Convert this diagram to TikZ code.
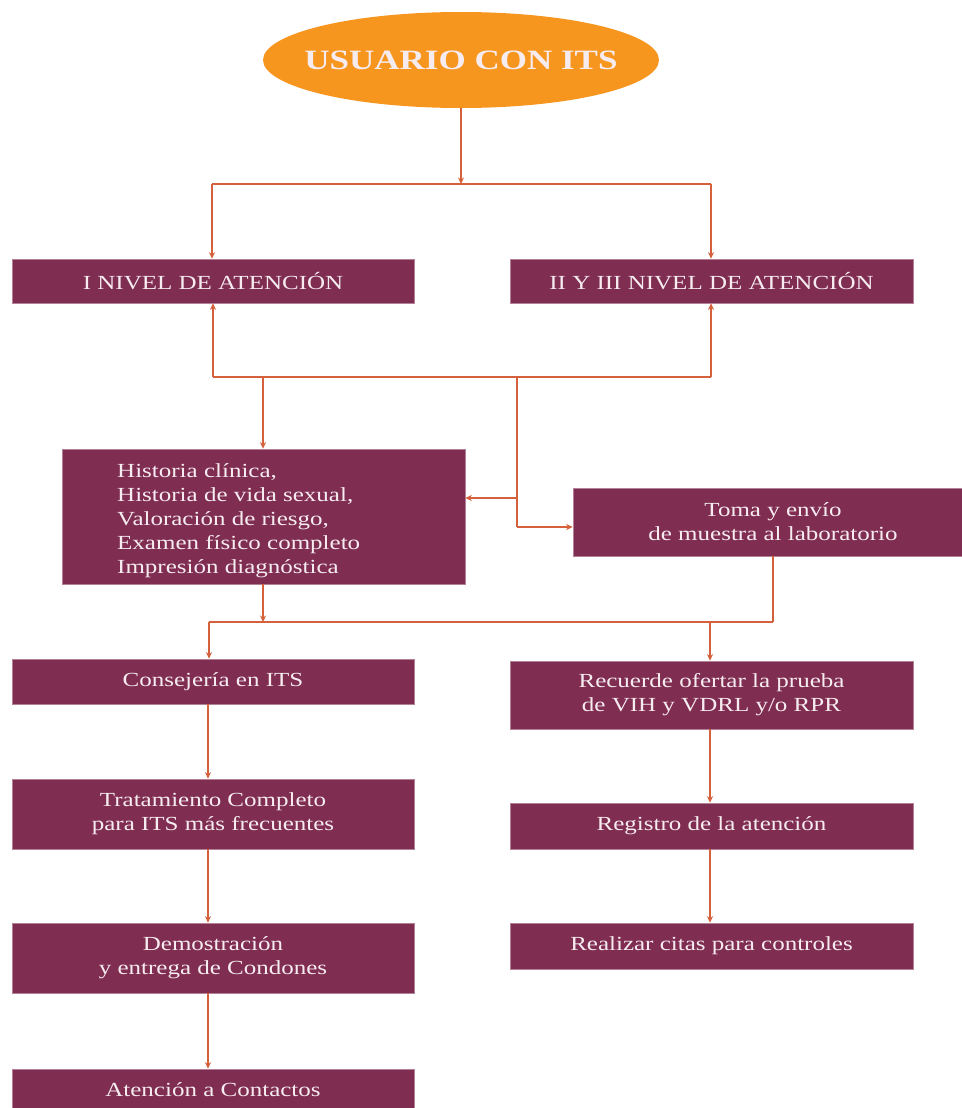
\documentclass[tikz,border=0pt]{standalone}
\usepackage{fontspec}
\setmainfont{Liberation Serif}[FakeStretch=1.25]
\usetikzlibrary{shapes.geometric,arrows.meta,calc}
\definecolor{boxc}{HTML}{7F2D51}
\definecolor{linec}{HTML}{D4603C}
\definecolor{ellc}{HTML}{F7961F}
\definecolor{txtc}{HTML}{F6ECF0}
\tikzset{
  box/.style={rectangle,fill=boxc,draw=boxc!60!white,line width=0.6pt,inner sep=0pt,
    text=txtc,align=center,font=\fontsize{20}{24}\selectfont},
  conn/.style={draw=linec,line width=2.2pt},
  arr/.style={conn,-{Stealth[length=6.5pt,width=6pt]}}
}
\begin{document}
\begin{tikzpicture}[x=1pt,y=-1pt]
\useasboundingbox (0,0) rectangle (961,1108);
% nodes
\node[ellipse,fill=ellc,minimum width=396pt,minimum height=96pt,inner sep=0pt] (usr) at (461,60) {};
\node[inner sep=0pt,text=txtc,font=\fontsize{28}{30}\selectfont\bfseries] (usrtxt) at (461,60) {USUARIO CON ITS};
\node[box,minimum width=402pt,minimum height=44pt] (n1) at (213,281) {I NIVEL DE ATENCIÓN};
\node[box,minimum width=403pt,minimum height=44pt] (n2) at (711.5,281) {II Y III NIVEL DE ATENCIÓN};
\node[box,minimum width=403pt,minimum height=135pt] (hist) at (263.5,516.5) {};
\node[anchor=west,inner sep=0pt,text=txtc,align=left,font=\fontsize{20}{24}\selectfont] (histtxt) at (117,521)
  {Historia clínica,\\Historia de vida sexual,\\Valoración de riesgo,\\Examen físico completo\\Impresión diagnóstica};
\node[box,minimum width=400pt,minimum height=68pt] (toma) at (773,522) {Toma y envío\\de muestra al laboratorio};
\node[box,minimum width=402pt,minimum height=45pt] (cons) at (213,681.5) {Consejería en ITS};
\node[box,minimum width=402pt,minimum height=70pt] (trat) at (213,814) {Tratamiento Completo\\para ITS más frecuentes};
\node[box,minimum width=402pt,minimum height=70pt] (dem) at (213,958) {Demostración\\y entrega de Condones};
\node[box,minimum width=402pt,minimum height=42pt] (aten) at (213,1090) {Atención a Contactos};
\node[box,minimum width=403pt,minimum height=68pt] (rec) at (711.5,695) {Recuerde ofertar la prueba\\de VIH y VDRL y/o RPR};
\node[box,minimum width=403pt,minimum height=46pt] (reg) at (711.5,826) {Registro de la atención};
\node[box,minimum width=403pt,minimum height=46pt] (cit) at (711.5,946) {Realizar citas para controles};
% junction coordinates
\coordinate (j0) at (461,184);
\coordinate (jL) at (212,184);
\coordinate (jR) at (711,184);
\coordinate (kL) at (213,377);
\coordinate (kR) at (711,377);
\coordinate (kH) at (263,377);
\coordinate (kT) at (517,377);
\coordinate (kA) at (517,498);
\coordinate (kB) at (517,527);
\coordinate (mL) at (209,622);
\coordinate (mH) at (263,622);
\coordinate (mR) at (773,622);
\coordinate (mD) at (710,622);
% connectors
\draw[arr] (usr.south) -- (j0);
\draw[conn] (jL) -- (jR);
\draw[arr] (jL) -- (jL |- n1.north);
\draw[arr] (jR) -- (jR |- n2.north);
\draw[conn] (kL) -- (kR);
\draw[arr] (kL) -- (kL |- n1.south);
\draw[arr] (kR) -- (kR |- n2.south);
\draw[arr] (kH) -- (kH |- hist.north);
\draw[conn] (kT) -- (kB);
\draw[arr] (kA) -- (kA -| hist.east);
\draw[arr] (kB) -- (kB -| toma.west);
\draw[arr] (hist.south -| mH) -- (mH);
\draw[conn] (mL) -- (mR);
\draw[conn] (toma.south -| mR) -- (mR);
\draw[arr] (mL) -- (mL |- cons.north);
\draw[arr] (mD) -- (mD |- rec.north);
\draw[arr] (cons.south -| 208,0) -- (trat.north -| 208,0);
\draw[arr] (trat.south -| 208,0) -- (dem.north -| 208,0);
\draw[arr] (dem.south -| 208,0) -- (aten.north -| 208,0);
\draw[arr] (rec.south -| 710,0) -- (reg.north -| 710,0);
\draw[arr] (reg.south -| 710,0) -- (cit.north -| 710,0);
\end{tikzpicture}
\end{document}
